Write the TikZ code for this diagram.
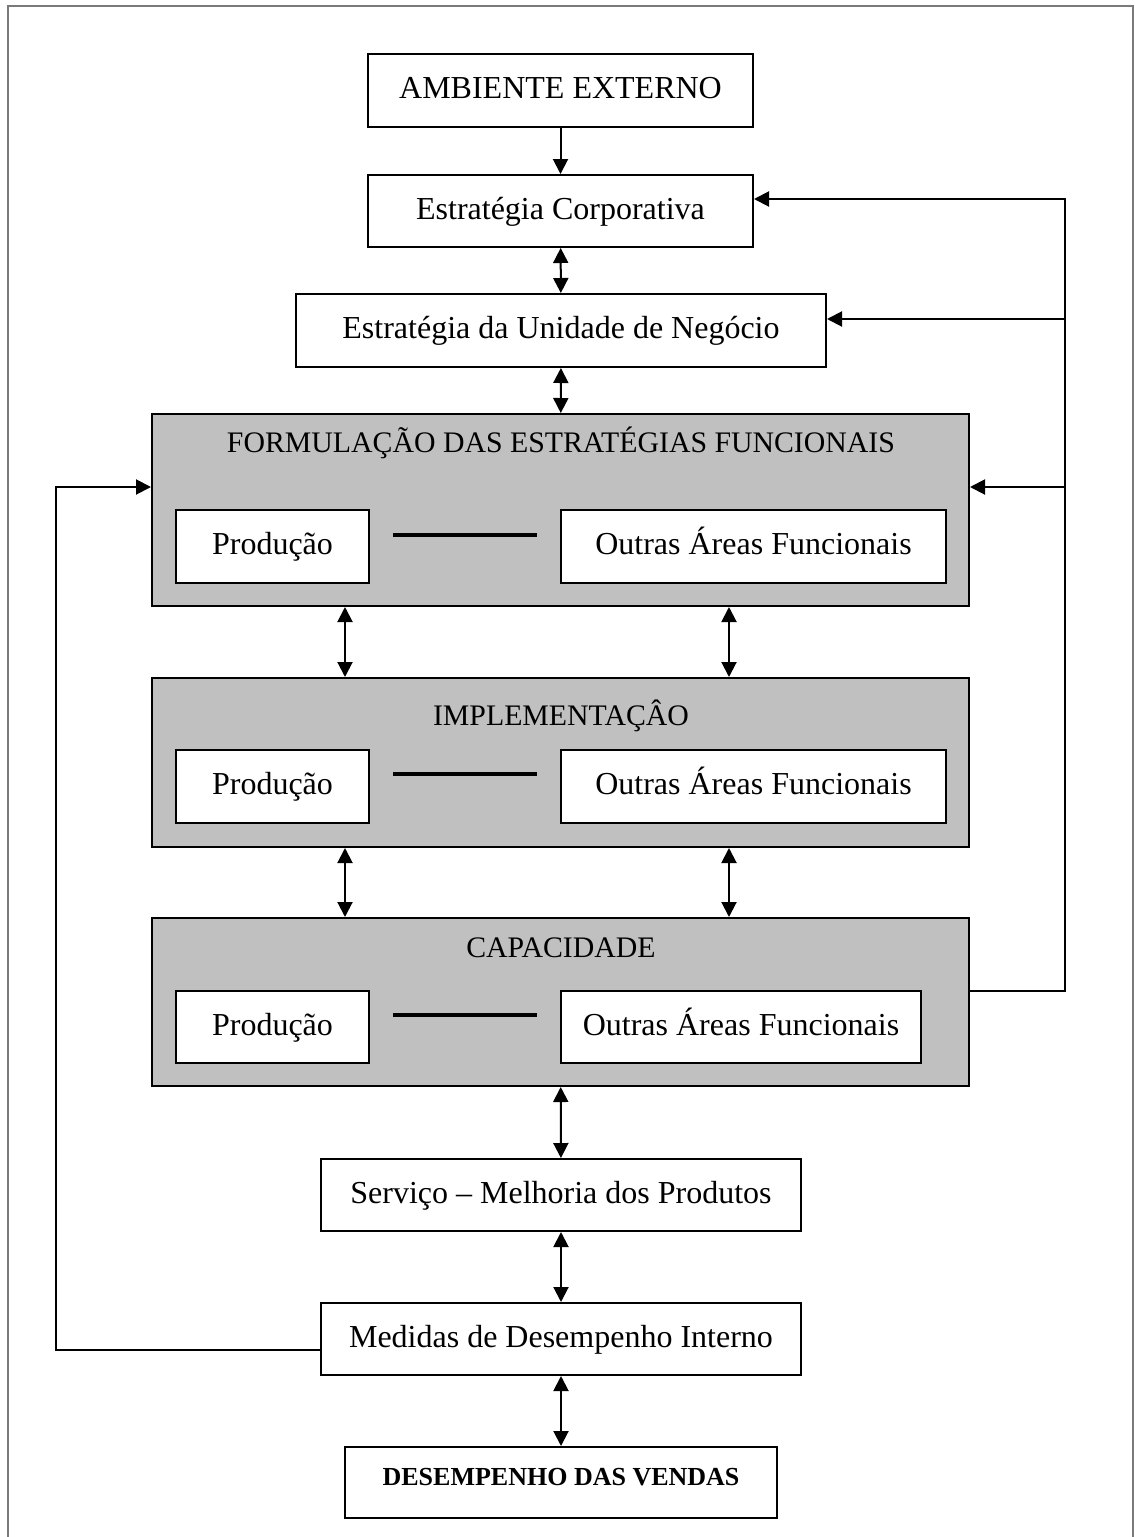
\documentclass[tikz,border=0pt]{standalone}
\usepackage{fontspec}
\setmainfont{Liberation Serif}
\usetikzlibrary{arrows.meta}
\definecolor{panelgray}{HTML}{C0C0C0}
\definecolor{framegray}{HTML}{7A7A7A}
\begin{document}
\begin{tikzpicture}[x=0.5pt,y=-0.5pt,
  box/.style={draw, line width=1pt, fill=white, inner sep=0pt,
    text height=11pt, text depth=3pt,
    font=\fontsize{16}{19}\selectfont},
  panel/.style={draw, line width=1pt, fill=panelgray, inner sep=0pt},
  ptitle/.style={inner sep=0pt, anchor=base, font=\fontsize{14.9}{18}\selectfont},
  conn/.style={line width=1pt},
  tip/.style={-{Triangle[length=7.5pt,width=7.5pt]}},
  both/.style={{Triangle[length=7.5pt,width=7.5pt]}-{Triangle[length=7.5pt,width=7.5pt]}},
  link/.style={line width=2pt}
]
\useasboundingbox (0,0) rectangle (1135,1537);
% page frame
\draw[framegray, line width=0.6pt] (8,1560) -- (8,6) -- (1133,6) -- (1133,1560);

% top chain
\node[box, minimum width=192.5pt, minimum height=36.5pt] (ae) at (560.5,90.5) {AMBIENTE EXTERNO};
\node[box, minimum width=192.5pt, minimum height=36pt] (ec) at (560.5,211) {Estratégia Corporativa};
\node[box, minimum width=265pt, minimum height=36.5pt] (eun) at (561,330.5) {Estratégia da Unidade de Negócio};

% functional strategy panel
\node[panel, minimum width=408.5pt, minimum height=96pt] (f) at (560.5,510) {};
\node[ptitle] (ft) at (561,452.5) {FORMULAÇÃO DAS ESTRATÉGIAS FUNCIONAIS};
\node[box, minimum width=96.5pt, minimum height=36.5pt] (fp) at (272.5,546.5) {Produção};
\node[box, minimum width=192.5pt, minimum height=36.5pt] (fo) at (753.5,546.5) {Outras Áreas Funcionais};
\coordinate (fl1) at (393,535); \coordinate (fl2) at (537,535);
\draw[link] (fl1) -- (fl2);

% implementation panel
\node[panel, minimum width=408.5pt, minimum height=84.5pt] (im) at (560.5,762.5) {};
\node[ptitle] (imt) at (561,725.5) {IMPLEMENTAÇÂO};
\node[box, minimum width=96.5pt, minimum height=36.5pt] (ip) at (272.5,786.5) {Produção};
\node[box, minimum width=192.5pt, minimum height=36.5pt] (io) at (753.5,786.5) {Outras Áreas Funcionais};
\coordinate (il1) at (393,774); \coordinate (il2) at (537,774);
\draw[link] (il1) -- (il2);

% capacity panel
\node[panel, minimum width=408.5pt, minimum height=84pt] (ca) at (560.5,1002) {};
\node[ptitle] (cat) at (561,957.5) {CAPACIDADE};
\node[box, minimum width=96.5pt, minimum height=36pt] (cp) at (272.5,1027) {Produção};
\node[box, minimum width=180pt, minimum height=36pt] (co) at (741,1027) {Outras Áreas Funcionais};
\coordinate (cl1) at (393,1015); \coordinate (cl2) at (537,1015);
\draw[link] (cl1) -- (cl2);

% lower chain
\node[box, minimum width=240pt, minimum height=36pt] (sv) at (561,1195) {Serviço – Melhoria dos Produtos};
\node[box, minimum width=240pt, minimum height=36pt] (md) at (561,1339) {Medidas de Desempenho Interno};
\node[box, minimum width=216pt, minimum height=35.5pt] (dv) at (561,1482.5) {};
\node[inner sep=0pt, anchor=base, font=\bfseries\fontsize{13}{16}\selectfont] (dvt) at (561,1485) {DESEMPENHO DAS VENDAS};

% vertical connectors
\draw[conn, tip] (ae) -- (ec);
\draw[conn, both] (ec) -- (eun);
\draw[conn, both] (eun) -- (f);
\coordinate (xa) at (345,0); \coordinate (xb) at (729,0);
\draw[conn, both] (f.south -| xa) -- (im.north -| xa);
\draw[conn, both] (f.south -| xb) -- (im.north -| xb);
\draw[conn, both] (im.south -| xa) -- (ca.north -| xa);
\draw[conn, both] (im.south -| xb) -- (ca.north -| xb);
\draw[conn, both] (ca) -- (sv);
\draw[conn, both] (sv) -- (md);
\draw[conn, both] (md) -- (dv);

% right feedback loop from capacity
\coordinate (rb) at (1065,991);
\coordinate (rt) at (1065,199);
\coordinate (r2) at (1065,319);
\coordinate (r3) at (1065,487);
\draw[conn, tip] (rb -| ca.east) -- (rb) -- (rt) -- (rt -| ec.east);
\draw[conn, tip] (r2) -- (r2 -| eun.east);
\draw[conn, tip] (r3) -- (r3 -| f.east);

% left feedback loop from internal measures
\coordinate (lb) at (56,1350);
\coordinate (lt) at (56,487);
\draw[conn, tip] (lb -| md.west) -- (lb) -- (lt) -- (lt -| f.west);
\end{tikzpicture}
\end{document}
